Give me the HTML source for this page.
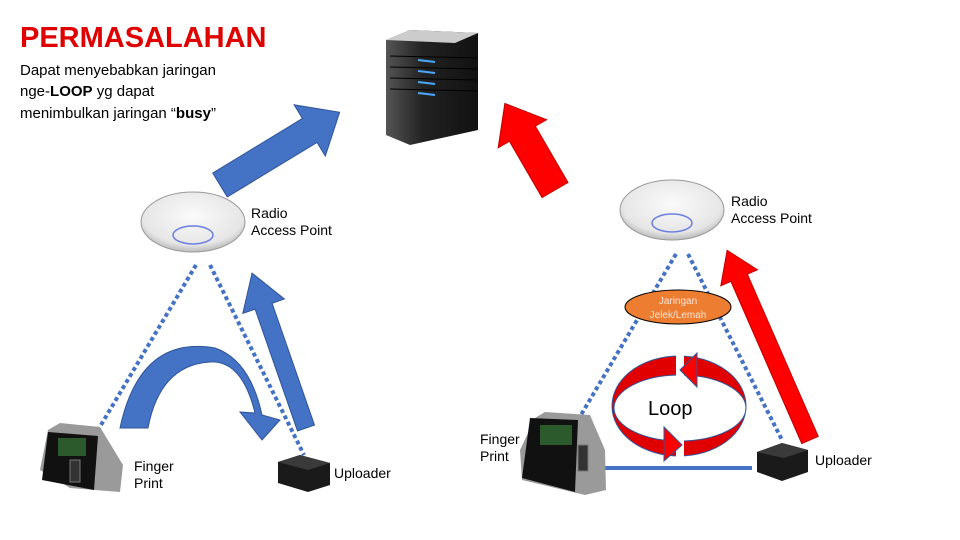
<!DOCTYPE html>
<html><head><meta charset="utf-8"><style>
html,body{margin:0;padding:0;background:#fff}
svg{display:block}
text{font-family:"Liberation Sans",sans-serif}
</style></head><body>
<svg width="960" height="540" viewBox="0 0 960 540" xmlns="http://www.w3.org/2000/svg">
<defs>
<linearGradient id="srv" x1="0" x2="1"><stop offset="0" stop-color="#555"/><stop offset="0.4" stop-color="#222"/><stop offset="1" stop-color="#111"/></linearGradient>
<radialGradient id="ap" cx="0.5" cy="0.4" r="0.6"><stop offset="0" stop-color="#fafafa"/><stop offset="0.8" stop-color="#e6e6e6"/><stop offset="1" stop-color="#bbb"/></radialGradient>
</defs>
<text x="20" y="47" font-size="29" font-weight="bold" fill="#e00000">PERMASALAHAN</text>
<text font-size="15" fill="#000"><tspan x="20" y="75">Dapat menyebabkan jaringan</tspan><tspan x="20" y="96">nge-<tspan font-weight="bold">LOOP</tspan> yg dapat</tspan><tspan x="20" y="118">menimbulkan jaringan “<tspan font-weight="bold">busy</tspan>”</tspan></text>
<!-- server -->
<polygon points="386,40 410,30 478,33 478,130 410,145 386,135" fill="url(#srv)"/>
<polygon points="386,40 410,30 478,33 455,43" fill="#ccc"/>
<g stroke="#4aa8ff" stroke-width="2"><line x1="418" y1="60" x2="435" y2="62"/><line x1="418" y1="71" x2="435" y2="73"/><line x1="418" y1="82" x2="435" y2="84"/><line x1="418" y1="93" x2="435" y2="95"/></g>
<g stroke="#000" stroke-width="1"><line x1="390" y1="56" x2="478" y2="58"/><line x1="390" y1="67" x2="478" y2="69"/><line x1="390" y1="78" x2="478" y2="80"/><line x1="390" y1="89" x2="478" y2="91"/></g>
<!-- blue arrow to server: L=140 -->
<g transform="translate(220,185) rotate(-31.3)">
<polygon points="0,-14 105,-14 105,-30 140,0 105,30 105,14 0,14" fill="#4472c4" stroke="#2f5597" stroke-width="1"/>
</g>
<!-- red arrow to server: L=100 -->
<g transform="translate(555,190) rotate(-120.1)">
<polygon points="0,-15 65,-15 65,-28 100,0 65,28 65,15 0,15" fill="#ff0000" stroke="#c00000" stroke-width="1"/>
</g>
<!-- APs -->
<ellipse cx="193" cy="222" rx="52" ry="30" fill="url(#ap)" stroke="#999"/>
<ellipse cx="193" cy="235" rx="20" ry="9" fill="none" stroke="#6b7fe0" stroke-width="1.5"/>
<ellipse cx="672" cy="210" rx="52" ry="30" fill="url(#ap)" stroke="#999"/>
<ellipse cx="672" cy="223" rx="20" ry="9" fill="none" stroke="#6b7fe0" stroke-width="1.5"/>
<text font-size="14" fill="#000"><tspan x="251" y="218">Radio</tspan><tspan x="251" y="235">Access Point</tspan></text>
<text font-size="14" fill="#000"><tspan x="731" y="206">Radio</tspan><tspan x="731" y="223">Access Point</tspan></text>
<!-- dashed lines -->
<g stroke="#4472c4" stroke-width="4" stroke-dasharray="4,3" fill="none">
<line x1="196" y1="265" x2="98" y2="430"/>
<line x1="210" y1="265" x2="304" y2="455"/>
<line x1="676" y1="254" x2="578" y2="420"/>
<line x1="688" y1="254" x2="782" y2="440"/>
</g>
<!-- left curved arrow -->
<path d="M120,428 Q140,335 215,348 Q250,360 262,415 L280,420 L262,440 L240,412 L255,413 Q242,360 210,362 Q160,365 148,428 Z" fill="#4472c4" stroke="#2f5597" stroke-width="1"/>
<!-- left straight arrow L=164 -->
<g transform="translate(306,428) rotate(-109.2)">
<polygon points="0,-9 129,-9 129,-22 164,0 129,22 129,9 0,9" fill="#4472c4" stroke="#2f5597" stroke-width="1"/>
</g>
<!-- fingerprint left -->
<g>
<polygon points="48,430 60,423 100,427 123,465 120,492 70,488 40,470" fill="#9a9a9a"/>
<polygon points="48,432 98,436 94,490 42,480" fill="#111"/>
<rect x="58" y="438" width="28" height="18" fill="#2d5a2d"/>
<rect x="70" y="460" width="10" height="22" fill="#333" stroke="#777"/>
</g>
<text font-size="14" fill="#000"><tspan x="134" y="471">Finger</tspan><tspan x="134" y="488">Print</tspan></text>
<!-- uploader left -->
<polygon points="278,462 300,455 330,463 330,485 308,492 278,483" fill="#1a1a1a"/>
<polygon points="278,462 300,455 330,463 308,470" fill="#3a3a3a"/>
<text x="334" y="478" font-size="14" fill="#000">Uploader</text>
<!-- right side -->
<line x1="605" y1="468" x2="752" y2="468" stroke="#4472c4" stroke-width="4"/>
<g>
<polygon points="535,418 545,412 590,415 605,450 606,490 585,495 522,480 520,450" fill="#9a9a9a"/>
<polygon points="530,418 578,420 575,492 522,478" fill="#111"/>
<rect x="540" y="425" width="32" height="20" fill="#2d5a2d"/>
<rect x="578" y="445" width="10" height="26" fill="#333" stroke="#777"/>
</g>
<text font-size="14" fill="#000"><tspan x="480" y="444">Finger</tspan><tspan x="480" y="461">Print</tspan></text>
<polygon points="757,452 782,443 808,450 808,472 782,481 757,472" fill="#1a1a1a"/>
<polygon points="757,452 782,443 808,450 784,458" fill="#3a3a3a"/>
<text x="815" y="465" font-size="14" fill="#000">Uploader</text>
<!-- red arrow right L=207 -->
<g transform="translate(810,440) rotate(-113.6)">
<polygon points="0,-9 177,-9 177,-20 207,0 177,20 177,9 0,9" fill="#ff0000" stroke="#c00000" stroke-width="1"/>
</g>
<!-- orange ellipse -->
<ellipse cx="678" cy="307" rx="53" ry="17" fill="#ed7d31" stroke="#000" stroke-width="1"/>
<text font-size="10" fill="#fbe5d6" text-anchor="middle"><tspan x="678" y="304">Jaringan</tspan><tspan x="678" y="318">Jelek/Lemah</tspan></text>
<!-- loop -->
<path fill-rule="evenodd" d="M612,406 A67,50 0 1 0 746,406 A67,50 0 1 0 612,406 Z M614,408 A66,33 0 1 1 746,408 A66,33 0 1 1 614,408 Z" fill="#e00000" stroke="#2f5597" stroke-width="1"/>
<rect x="676" y="352" width="8" height="24" fill="#fff"/>
<rect x="676" y="438" width="8" height="22" fill="#fff"/>
<polygon points="680,370 697,353 697,387" fill="#ff0000" stroke="#2f5597" stroke-width="1"/>
<polygon points="682,445 664,427 664,461" fill="#ff0000" stroke="#2f5597" stroke-width="1"/>
<text x="648" y="415" font-size="20" fill="#000">Loop</text>
</svg>
</body></html>
